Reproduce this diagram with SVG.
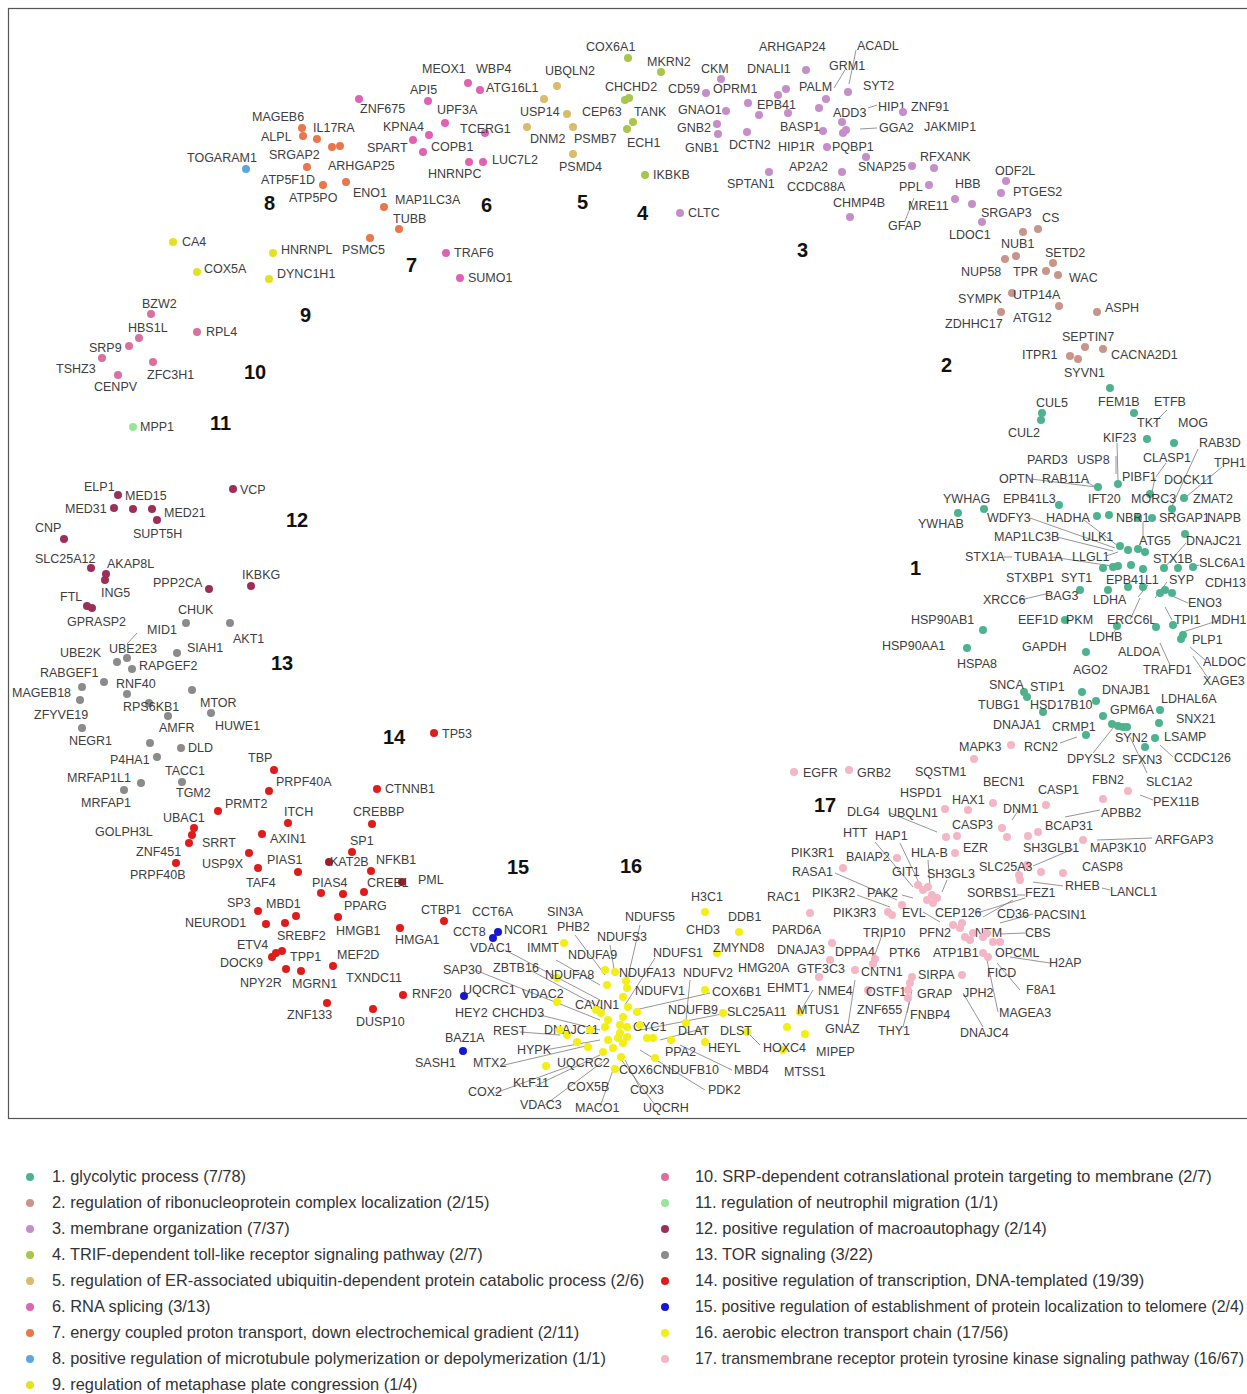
<svg xmlns="http://www.w3.org/2000/svg" width="1247" height="1394" viewBox="0 0 1247 1394">
<style>
text{font-family:"Liberation Sans",Arial,sans-serif;font-size:12.5px;fill:#3d3d3d}
.num{font-size:20px;font-weight:bold;fill:#111}
.lg text{font-size:16.4px;fill:#333}
#connectors path{stroke:#7a7a7a;stroke-width:0.8;fill:none}
.c1 circle{fill:#4db38e}.c2 circle{fill:#c9958b}.c3 circle{fill:#c58ec9}.c4 circle{fill:#a7c64b}
.c5 circle{fill:#d9bb6b}.c6 circle{fill:#e062b3}.c7 circle{fill:#e8774b}.c8 circle{fill:#59a7dd}
.c9 circle{fill:#e5e022}.c10 circle{fill:#d9709f}.c11 circle{fill:#9ae39b}.c12 circle{fill:#9c2f58}
.c13 circle{fill:#8b8b8b}.c14 circle{fill:#df1b1b}.c15 circle{fill:#1717cf}.c16 circle{fill:#f3ee15}.c17 circle{fill:#f4b6c5}
</style>
<rect x="8.5" y="8.5" width="1250" height="1110" fill="#fff" stroke="#555" stroke-width="1.2"/>
<g id="connectors">
<path d="M856 50L849 84M834 88L845 70M868 108L877 105M860 129L877 128M905 221L914 198"/>
<path d="M137 633L127 644"/>
<path d="M1167 410L1153 424M1198 449L1172 506M1222 467L1186 497M1166 463L1156 477M1155 478L1152 492M1116 456L1116 474M1117 443L1118 480M1031 479L1096 487M1086 482L1096 487M1030 518L1115 548M1084 520L1118 546M1057 537L1113 551M1004 557L1012 557M1052 557L1112 566M1106 556L1118 552M1143 522L1143 540M1186 543L1165 567M1167 582L1155 598M1199 565L1193 567M1188 603L1170 595M1220 620L1180 633M1172 620L1165 607M1140 598L1130 620M1190 647L1205 660M1160 643L1170 665M1193 656L1208 678M1020 600L1050 593M1110 638L1120 623M1138 597L1148 585M1060 743L1077 737M1093 753L1113 728M1130 737L1147 773M1173 757L1160 745M1140 795L1153 800"/>
<path d="M1065 817L1100 810M1012 820L1020 808M890 813L937 832M875 842L913 887M900 843L920 885M835 873L897 900M857 895L890 907M902 895L913 898M928 860L930 888M947 880L942 892M1073 849L1033 866M1097 840L1152 838M1033 882L1063 886M1102 888L1110 890M1017 895L1025 895M1025 898L977 913M983 917L1013 900M1000 923L1033 914M1000 934L1025 933M1010 957L1050 963M997 963L1020 990M987 960L998 1012M963 993L983 1027M912 990L907 1013M813 990L800 1012M848 1025L855 980M882 935L872 963M923 912L940 922M903 1027L910 1000"/>
<path d="M505 950L600 1000M475 970L600 1020M530 970L605 1010M540 1015L600 1030M520 1032L560 1035M545 1050L600 1040M500 1066L590 1045M535 1086L600 1055M495 1093L570 1066M545 1105L605 1060M600 1107L613 1070M655 1105L620 1058M640 1088L625 1060M705 1090L640 1050M732 1070L680 1045M640 925L625 990M610 945L615 975M575 935L605 975M655 958L625 1005M690 980L686 1020M710 993L635 1010M727 1013L640 1030M556 960L600 985M705 1028L660 1040M760 1045L750 1035"/>
</g>
<g id="nodes">
<g id="cluster-8" class="c8"><g id="TOGARAM1"><circle cx="246" cy="169" r="4"/><text x="187" y="162">TOGARAM1</text></g></g>
<g id="cluster-7" class="c7">
<g id="MAGEB6"><circle cx="302" cy="128" r="4"/><text x="252" y="121">MAGEB6</text></g>
<g id="ALPL"><circle cx="303" cy="136" r="4"/><text x="261" y="141">ALPL</text></g>
<g id="IL17RA"><circle cx="317" cy="139" r="4"/><text x="313" y="132">IL17RA</text></g>
<g id="SRGAP2"><circle cx="307" cy="167" r="4"/><text x="269" y="159">SRGAP2</text></g>
<g id="ARHGAP25"><circle cx="346" cy="182" r="4"/><text x="328" y="170">ARHGAP25</text></g>
<g id="ATP5F1D"><circle cx="323" cy="185" r="4"/><text x="261" y="184">ATP5F1D</text></g>
<g id="ATP5PO"><circle cx="332" cy="147" r="4"/><text x="289" y="202">ATP5PO</text></g>
<g id="ENO1"><circle cx="340" cy="146" r="4"/><text x="353" y="197">ENO1</text></g>
<g id="MAP1LC3A"><circle cx="384" cy="207" r="4"/><text x="395" y="204">MAP1LC3A</text></g>
<g id="TUBB"><circle cx="399" cy="229" r="4"/><text x="393" y="223">TUBB</text></g>
<g id="PSMC5"><circle cx="370" cy="238" r="4"/><text x="342" y="254">PSMC5</text></g>
</g>
<g id="cluster-6" class="c6">
<g id="MEOX1"><text x="422" y="73">MEOX1</text></g>
<g id="WBP4"><circle cx="468" cy="83" r="4"/><text x="476" y="73">WBP4</text></g>
<g id="ATG16L1"><circle cx="480" cy="90" r="4"/><text x="486" y="92">ATG16L1</text></g>
<g id="API5"><circle cx="428" cy="101" r="4"/><text x="410" y="94">API5</text></g>
<g id="ZNF675"><circle cx="359" cy="99" r="4"/><text x="360" y="113">ZNF675</text></g>
<g id="UPF3A"><circle cx="445" cy="123" r="4"/><text x="437" y="114">UPF3A</text></g>
<g id="KPNA4"><circle cx="429" cy="135" r="4"/><text x="383" y="131">KPNA4</text></g>
<g id="SPART"><circle cx="413" cy="140" r="4"/><text x="367" y="152">SPART</text></g>
<g id="COPB1"><circle cx="423" cy="152" r="4"/><text x="431" y="151">COPB1</text></g>
<g id="TCERG1"><circle cx="485" cy="133" r="4"/><text x="460" y="133">TCERG1</text></g>
<g id="LUC7L2"><circle cx="483" cy="162" r="4"/><text x="492" y="164">LUC7L2</text></g>
<g id="HNRNPC"><circle cx="469" cy="162" r="4"/><text x="428" y="178">HNRNPC</text></g>
<g id="TRAF6"><circle cx="446" cy="253" r="4"/><text x="454" y="257">TRAF6</text></g>
<g id="SUMO1"><circle cx="460" cy="278" r="4"/><text x="468" y="282">SUMO1</text></g>
</g>
<g id="cluster-5" class="c5">
<g id="UBQLN2"><circle cx="557" cy="86" r="4"/><text x="545" y="75">UBQLN2</text></g>
<g id="USP14"><circle cx="567" cy="114" r="4"/><text x="520" y="116">USP14</text></g>
<g id="CEP63"><circle cx="544" cy="99" r="4"/><text x="582" y="116">CEP63</text></g>
<g id="DNM2"><circle cx="527" cy="127" r="4"/><text x="530" y="143">DNM2</text></g>
<g id="PSMB7"><circle cx="573" cy="127" r="4"/><text x="574" y="143">PSMB7</text></g>
<g id="PSMD4"><circle cx="573" cy="154" r="4"/><text x="559" y="171">PSMD4</text></g>
</g>
<g id="cluster-4" class="c4">
<g id="COX6A1"><circle cx="628" cy="58" r="4"/><text x="586" y="51">COX6A1</text></g>
<g id="MKRN2"><circle cx="661" cy="72" r="4"/><text x="647" y="66">MKRN2</text></g>
<g id="CHCHD2"><circle cx="625" cy="100" r="4"/><circle cx="629" cy="98" r="4"/><text x="605" y="91">CHCHD2</text></g>
<g id="TANK"><circle cx="633" cy="122" r="4"/><text x="634" y="116">TANK</text></g>
<g id="ECH1"><circle cx="627" cy="129" r="4"/><text x="627" y="147">ECH1</text></g>
<g id="IKBKB"><circle cx="645" cy="175" r="4"/><text x="653" y="179">IKBKB</text></g>
</g>
<g id="cluster-3" class="c3">
<g id="CKM"><circle cx="721" cy="79" r="4"/><text x="701" y="73">CKM</text></g>
<g id="DNALI1"><circle cx="806" cy="70" r="4"/><text x="747" y="73">DNALI1</text></g>
<g id="ARHGAP24"><text x="759" y="51">ARHGAP24</text></g>
<g id="ACADL"><text x="857" y="50">ACADL</text></g>
<g id="GRM1"><text x="829" y="70">GRM1</text></g>
<g id="CD59"><circle cx="706" cy="93" r="4"/><text x="668" y="93">CD59</text></g>
<g id="OPRM1"><circle cx="778" cy="95" r="4"/><circle cx="786" cy="89" r="4"/><text x="713" y="93">OPRM1</text></g>
<g id="PALM"><circle cx="826" cy="99" r="4"/><text x="799" y="91">PALM</text></g>
<g id="SYT2"><circle cx="848" cy="92" r="4"/><text x="863" y="90">SYT2</text></g>
<g id="GNAO1"><circle cx="726" cy="111" r="4"/><text x="678" y="114">GNAO1</text></g>
<g id="EPB41"><circle cx="748" cy="103" r="4"/><circle cx="759" cy="115" r="4"/><circle cx="788" cy="113" r="4"/><text x="757" y="109">EPB41</text></g>
<g id="ADD3"><circle cx="819" cy="108" r="4"/><text x="833" y="117">ADD3</text></g>
<g id="GNB2"><circle cx="717" cy="124" r="4"/><text x="677" y="132">GNB2</text></g>
<g id="GNB1"><circle cx="718" cy="134" r="4"/><text x="685" y="152">GNB1</text></g>
<g id="DCTN2"><circle cx="747" cy="132" r="4"/><text x="729" y="149">DCTN2</text></g>
<g id="BASP1"><circle cx="823" cy="131" r="4"/><text x="780" y="131">BASP1</text></g>
<g id="HIP1"><circle cx="842" cy="122" r="4"/><text x="878" y="111">HIP1</text></g>
<g id="GGA2"><circle cx="846" cy="130" r="4"/><circle cx="843" cy="133" r="4"/><text x="879" y="132">GGA2</text></g>
<g id="ZNF91"><circle cx="903" cy="112" r="4"/><text x="911" y="111">ZNF91</text></g>
<g id="JAKMIP1"><text x="924" y="131">JAKMIP1</text></g>
<g id="HIP1R"><text x="778" y="151">HIP1R</text></g>
<g id="PQBP1"><circle cx="827" cy="147" r="4"/><text x="832" y="151">PQBP1</text></g>
<g id="SNAP25"><circle cx="866" cy="157" r="4"/><circle cx="912" cy="166" r="4"/><text x="858" y="171">SNAP25</text></g>
<g id="RFXANK"><circle cx="934" cy="168" r="4"/><text x="920" y="161">RFXANK</text></g>
<g id="AP2A2"><circle cx="842" cy="172" r="4"/><text x="789" y="171">AP2A2</text></g>
<g id="SPTAN1"><circle cx="769" cy="172" r="4"/><text x="727" y="188">SPTAN1</text></g>
<g id="CCDC88A"><text x="787" y="191">CCDC88A</text></g>
<g id="CLTC"><circle cx="680" cy="213" r="4"/><text x="688" y="217">CLTC</text></g>
<g id="CHMP4B"><circle cx="850" cy="217" r="4"/><text x="833" y="207">CHMP4B</text></g>
<g id="PPL"><circle cx="929" cy="185" r="4"/><text x="899" y="191">PPL</text></g>
<g id="HBB"><circle cx="955" cy="199" r="4"/><text x="955" y="188">HBB</text></g>
<g id="MRE11"><circle cx="972" cy="204" r="4"/><text x="908" y="210">MRE11</text></g>
<g id="GFAP"><text x="888" y="230">GFAP</text></g>
<g id="ODF2L"><circle cx="1006" cy="181" r="4"/><text x="995" y="175">ODF2L</text></g>
<g id="PTGES2"><circle cx="1001" cy="193" r="4"/><text x="1013" y="196">PTGES2</text></g>
<g id="SRGAP3"><circle cx="982" cy="222" r="4"/><text x="981" y="217">SRGAP3</text></g>
<g id="LDOC1"><text x="949" y="239">LDOC1</text></g>
</g>
<g id="cluster-2" class="c2">
<g id="CS"><circle cx="1023" cy="232" r="4"/><circle cx="1038" cy="229" r="4"/><text x="1042" y="222">CS</text></g>
<g id="NUB1"><circle cx="1005" cy="259" r="4"/><circle cx="1016" cy="256" r="4"/><text x="1001" y="248">NUB1</text></g>
<g id="SETD2"><circle cx="1053" cy="263" r="4"/><text x="1045" y="257">SETD2</text></g>
<g id="TPR"><circle cx="1046" cy="271" r="4"/><text x="1013" y="276">TPR</text></g>
<g id="WAC"><circle cx="1058" cy="275" r="4"/><text x="1069" y="282">WAC</text></g>
<g id="NUP58"><text x="961" y="276">NUP58</text></g>
<g id="UTP14A"><circle cx="1012" cy="293" r="4"/><text x="1013" y="299">UTP14A</text></g>
<g id="SYMPK"><text x="958" y="303">SYMPK</text></g>
<g id="ATG12"><circle cx="1059" cy="306" r="4"/><text x="1013" y="322">ATG12</text></g>
<g id="ASPH"><circle cx="1097" cy="312" r="4"/><text x="1105" y="312">ASPH</text></g>
<g id="ZDHHC17"><circle cx="1001" cy="312" r="4"/><text x="945" y="328">ZDHHC17</text></g>
<g id="SEPTIN7"><circle cx="1085" cy="347" r="4"/><text x="1062" y="341">SEPTIN7</text></g>
<g id="CACNA2D1"><circle cx="1103" cy="349" r="4"/><text x="1111" y="359">CACNA2D1</text></g>
<g id="ITPR1"><circle cx="1070" cy="356" r="4"/><text x="1022" y="359">ITPR1</text></g>
<g id="SYVN1"><circle cx="1078" cy="359" r="4"/><text x="1064" y="377">SYVN1</text></g>
</g>
<g id="cluster-1" class="c1">
<g id="d1-1"><circle cx="1110" cy="388" r="4"/></g>
<g id="CUL5"><circle cx="1042" cy="413" r="4"/><text x="1036" y="407">CUL5</text></g>
<g id="CUL2"><circle cx="1041" cy="420" r="4"/><text x="1008" y="437">CUL2</text></g>
<g id="FEM1B"><circle cx="1134" cy="413" r="4"/><text x="1098" y="406">FEM1B</text></g>
<g id="ETFB"><text x="1154" y="406">ETFB</text></g>
<g id="TKT"><text x="1137" y="427">TKT</text></g>
<g id="MOG"><circle cx="1174" cy="443" r="4"/><text x="1178" y="427">MOG</text></g>
<g id="KIF23"><circle cx="1147" cy="439" r="4"/><text x="1103" y="442">KIF23</text></g>
<g id="RAB3D"><text x="1199" y="447">RAB3D</text></g>
<g id="PARD3"><text x="1027" y="464">PARD3</text></g>
<g id="USP8"><text x="1077" y="464">USP8</text></g>
<g id="CLASP1"><text x="1143" y="462">CLASP1</text></g>
<g id="TPH1"><text x="1214" y="467">TPH1</text></g>
<g id="OPTN"><text x="999" y="483">OPTN</text></g>
<g id="RAB11A"><circle cx="1098" cy="487" r="4"/><text x="1042" y="483">RAB11A</text></g>
<g id="PIBF1"><circle cx="1118" cy="484" r="4"/><text x="1122" y="481">PIBF1</text></g>
<g id="DOCK11"><circle cx="1150" cy="494" r="4"/><text x="1164" y="484">DOCK11</text></g>
<g id="YWHAG"><circle cx="984" cy="509" r="4"/><text x="943" y="503">YWHAG</text></g>
<g id="EPB41L3"><circle cx="1059" cy="505" r="4"/><text x="1003" y="503">EPB41L3</text></g>
<g id="IFT20"><circle cx="1097" cy="516" r="4"/><text x="1088" y="503">IFT20</text></g>
<g id="MORC3"><circle cx="1172" cy="509" r="4"/><text x="1131" y="503">MORC3</text></g>
<g id="ZMAT2"><circle cx="1184" cy="498" r="4"/><text x="1193" y="503">ZMAT2</text></g>
<g id="YWHAB"><circle cx="958" cy="513" r="4"/><text x="918" y="528">YWHAB</text></g>
<g id="WDFY3"><text x="987" y="522">WDFY3</text></g>
<g id="HADHA"><circle cx="1109" cy="515" r="4"/><text x="1046" y="522">HADHA</text></g>
<g id="NBR1"><circle cx="1138" cy="518" r="4"/><text x="1116" y="522">NBR1</text></g>
<g id="SRGAP1"><circle cx="1152" cy="518" r="4"/><text x="1159" y="522">SRGAP1</text></g>
<g id="NAPB"><text x="1207" y="522">NAPB</text></g>
<g id="MAP1LC3B"><circle cx="1120" cy="546" r="4"/><text x="994" y="541">MAP1LC3B</text></g>
<g id="ULK1"><circle cx="1128" cy="550" r="4"/><text x="1082" y="541">ULK1</text></g>
<g id="ATG5"><circle cx="1138" cy="549" r="4"/><circle cx="1145" cy="552" r="4"/><text x="1139" y="545">ATG5</text></g>
<g id="DNAJC21"><circle cx="1185" cy="534" r="4"/><text x="1186" y="545">DNAJC21</text></g>
<g id="STX1A"><circle cx="1113" cy="567" r="4"/><text x="965" y="561">STX1A</text></g>
<g id="TUBA1A"><circle cx="1103" cy="568" r="4"/><text x="1014" y="561">TUBA1A</text></g>
<g id="LLGL1"><circle cx="1118" cy="566" r="4"/><text x="1072" y="561">LLGL1</text></g>
<g id="STX1B"><circle cx="1164" cy="568" r="4"/><text x="1153" y="563">STX1B</text></g>
<g id="SLC6A1"><circle cx="1193" cy="567" r="4"/><circle cx="1178" cy="568" r="4"/><text x="1199" y="567">SLC6A1</text></g>
<g id="STXBP1"><circle cx="1080" cy="590" r="4"/><text x="1006" y="582">STXBP1</text></g>
<g id="SYT1"><circle cx="1108" cy="590" r="4"/><circle cx="1131" cy="565" r="4"/><text x="1061" y="582">SYT1</text></g>
<g id="EPB41L1"><circle cx="1128" cy="587" r="4"/><circle cx="1143" cy="587" r="4"/><circle cx="1143" cy="569" r="4"/><text x="1106" y="584">EPB41L1</text></g>
<g id="SYP"><circle cx="1165" cy="590" r="4"/><circle cx="1160" cy="593" r="4"/><text x="1169" y="584">SYP</text></g>
<g id="CDH13"><circle cx="1172" cy="593" r="4"/><text x="1205" y="587">CDH13</text></g>
<g id="XRCC6"><text x="983" y="604">XRCC6</text></g>
<g id="BAG3"><text x="1045" y="600">BAG3</text></g>
<g id="LDHA"><text x="1093" y="604">LDHA</text></g>
<g id="ENO3"><text x="1188" y="607">ENO3</text></g>
<g id="HSP90AB1"><circle cx="983" cy="630" r="4"/><text x="911" y="624">HSP90AB1</text></g>
<g id="EEF1D"><text x="1018" y="624">EEF1D</text></g>
<g id="PKM"><circle cx="1065" cy="620" r="4"/><text x="1066" y="624">PKM</text></g>
<g id="ERCC6L"><circle cx="1117" cy="626" r="4"/><text x="1107" y="624">ERCC6L</text></g>
<g id="TPI1"><circle cx="1156" cy="627" r="4"/><circle cx="1173" cy="625" r="4"/><text x="1174" y="624">TPI1</text></g>
<g id="MDH1"><text x="1211" y="624">MDH1</text></g>
<g id="LDHB"><text x="1089" y="641">LDHB</text></g>
<g id="PLP1"><circle cx="1183" cy="635" r="4"/><circle cx="1181" cy="639" r="4"/><text x="1192" y="644">PLP1</text></g>
<g id="HSP90AA1"><text x="882" y="650">HSP90AA1</text></g>
<g id="GAPDH"><circle cx="1086" cy="652" r="4"/><text x="1022" y="651">GAPDH</text></g>
<g id="ALDOA"><text x="1118" y="656">ALDOA</text></g>
<g id="ALDOC"><text x="1203" y="666">ALDOC</text></g>
<g id="HSPA8"><circle cx="967" cy="648" r="4"/><text x="957" y="668">HSPA8</text></g>
<g id="AGO2"><text x="1073" y="674">AGO2</text></g>
<g id="TRAFD1"><text x="1143" y="674">TRAFD1</text></g>
<g id="XAGE3"><text x="1203" y="685">XAGE3</text></g>
<g id="SNCA"><circle cx="1024" cy="692" r="4"/><text x="989" y="689">SNCA</text></g>
<g id="STIP1"><circle cx="1027" cy="697" r="4"/><text x="1030" y="691">STIP1</text></g>
<g id="DNAJB1"><circle cx="1082" cy="692" r="4"/><text x="1102" y="694">DNAJB1</text></g>
<g id="LDHAL6A"><circle cx="1160" cy="710" r="4"/><text x="1161" y="703">LDHAL6A</text></g>
<g id="TUBG1"><text x="978" y="709">TUBG1</text></g>
<g id="HSD17B10"><circle cx="1043" cy="712" r="4"/><circle cx="1096" cy="701" r="4"/><text x="1030" y="709">HSD17B10</text></g>
<g id="GPM6A"><circle cx="1103" cy="716" r="4"/><text x="1110" y="714">GPM6A</text></g>
<g id="SNX21"><circle cx="1159" cy="723" r="4"/><text x="1176" y="723">SNX21</text></g>
<g id="DNAJA1"><text x="993" y="729">DNAJA1</text></g>
<g id="CRMP1"><circle cx="1086" cy="735" r="4"/><text x="1052" y="731">CRMP1</text></g>
<g id="SYN2"><circle cx="1112" cy="724" r="4"/><circle cx="1118" cy="726" r="4"/><text x="1115" y="742">SYN2</text></g>
<g id="DPYSL2"><circle cx="1123" cy="727" r="4"/><text x="1067" y="763">DPYSL2</text></g>
<g id="SFXN3"><circle cx="1127" cy="727" r="4"/><text x="1122" y="764">SFXN3</text></g>
<g id="LSAMP"><circle cx="1155" cy="738" r="4"/><text x="1164" y="741">LSAMP</text></g>
<g id="CCDC126"><circle cx="1145" cy="747" r="4"/><text x="1174" y="762">CCDC126</text></g>
<g id="SLC1A2"><text x="1146" y="786">SLC1A2</text></g>
<g id="RCN2"><text x="1024" y="751">RCN2</text></g>
</g>
<g id="cluster-9" class="c9">
<g id="CA4"><circle cx="173" cy="242" r="4"/><text x="182" y="246">CA4</text></g>
<g id="COX5A"><circle cx="197" cy="272" r="4"/><text x="204" y="273">COX5A</text></g>
<g id="HNRNPL"><circle cx="273" cy="253" r="4"/><text x="281" y="254">HNRNPL</text></g>
<g id="DYNC1H1"><circle cx="269" cy="279" r="4"/><text x="277" y="278">DYNC1H1</text></g>
</g>
<g id="cluster-10" class="c10">
<g id="BZW2"><circle cx="151" cy="314" r="4"/><text x="142" y="308">BZW2</text></g>
<g id="HBS1L"><circle cx="139" cy="338" r="4"/><text x="128" y="332">HBS1L</text></g>
<g id="SRP9"><circle cx="129" cy="346" r="4"/><text x="89" y="352">SRP9</text></g>
<g id="TSHZ3"><circle cx="102" cy="358" r="4"/><text x="56" y="373">TSHZ3</text></g>
<g id="ZFC3H1"><circle cx="153" cy="362" r="4"/><text x="147" y="379">ZFC3H1</text></g>
<g id="CENPV"><circle cx="118" cy="375" r="4"/><text x="94" y="391">CENPV</text></g>
<g id="RPL4"><circle cx="197" cy="332" r="4"/><text x="206" y="336">RPL4</text></g>
</g>
<g id="cluster-11" class="c11"><g id="MPP1"><circle cx="133" cy="427" r="4"/><text x="140" y="431">MPP1</text></g></g>
<g id="cluster-12" class="c12">
<g id="ELP1"><circle cx="118" cy="495" r="4"/><text x="84" y="491">ELP1</text></g>
<g id="MED15"><circle cx="133" cy="509" r="4"/><text x="125" y="500">MED15</text></g>
<g id="MED31"><circle cx="114" cy="508" r="4"/><text x="65" y="513">MED31</text></g>
<g id="MED21"><circle cx="152" cy="509" r="4"/><text x="164" y="517">MED21</text></g>
<g id="SUPT5H"><circle cx="157" cy="520" r="4"/><text x="133" y="538">SUPT5H</text></g>
<g id="VCP"><circle cx="233" cy="489" r="4"/><text x="240" y="494">VCP</text></g>
<g id="CNP"><circle cx="64" cy="539" r="4"/><text x="35" y="532">CNP</text></g>
<g id="SLC25A12"><circle cx="91" cy="568" r="4"/><text x="35" y="563">SLC25A12</text></g>
<g id="AKAP8L"><circle cx="106" cy="574" r="4"/><text x="107" y="568">AKAP8L</text></g>
<g id="ING5"><circle cx="105" cy="580" r="4"/><text x="101" y="597">ING5</text></g>
<g id="PPP2CA"><circle cx="209" cy="589" r="4"/><text x="153" y="587">PPP2CA</text></g>
<g id="IKBKG"><circle cx="251" cy="586" r="4"/><text x="242" y="579">IKBKG</text></g>
<g id="FTL"><circle cx="87" cy="606" r="4"/><text x="60" y="601">FTL</text></g>
<g id="GPRASP2"><circle cx="92" cy="608" r="4"/><text x="67" y="626">GPRASP2</text></g>
</g>
<g id="cluster-13" class="c13">
<g id="CHUK"><circle cx="186" cy="623" r="4"/><text x="178" y="614">CHUK</text></g>
<g id="AKT1"><circle cx="230" cy="623" r="4"/><text x="233" y="643">AKT1</text></g>
<g id="MID1"><text x="147" y="634">MID1</text></g>
<g id="UBE2K"><circle cx="117" cy="662" r="4"/><text x="60" y="657">UBE2K</text></g>
<g id="UBE2E3"><circle cx="127" cy="658" r="4"/><text x="109" y="653">UBE2E3</text></g>
<g id="SIAH1"><circle cx="177" cy="653" r="4"/><text x="187" y="652">SIAH1</text></g>
<g id="RAPGEF2"><circle cx="132" cy="669" r="4"/><text x="139" y="670">RAPGEF2</text></g>
<g id="RABGEF1"><circle cx="82" cy="687" r="4"/><text x="40" y="677">RABGEF1</text></g>
<g id="RNF40"><circle cx="104" cy="682" r="4"/><text x="116" y="688">RNF40</text></g>
<g id="MAGEB18"><circle cx="80" cy="700" r="4"/><text x="12" y="697">MAGEB18</text></g>
<g id="RPS6KB1"><circle cx="127" cy="694" r="4"/><circle cx="149" cy="703" r="4"/><text x="123" y="711">RPS6KB1</text></g>
<g id="MTOR"><circle cx="192" cy="690" r="4"/><text x="200" y="707">MTOR</text></g>
<g id="HUWE1"><circle cx="211" cy="713" r="4"/><text x="215" y="730">HUWE1</text></g>
<g id="AMFR"><circle cx="168" cy="716" r="4"/><text x="159" y="732">AMFR</text></g>
<g id="ZFYVE19"><circle cx="82" cy="728" r="4"/><text x="34" y="719">ZFYVE19</text></g>
<g id="NEGR1"><circle cx="150" cy="743" r="4"/><text x="69" y="745">NEGR1</text></g>
<g id="DLD"><circle cx="181" cy="748" r="4"/><text x="188" y="752">DLD</text></g>
<g id="P4HA1"><circle cx="157" cy="757" r="4"/><text x="110" y="764">P4HA1</text></g>
<g id="TACC1"><circle cx="182" cy="782" r="4"/><text x="165" y="775">TACC1</text></g>
<g id="MRFAP1L1"><circle cx="141" cy="783" r="4"/><text x="67" y="782">MRFAP1L1</text></g>
<g id="MRFAP1"><circle cx="124" cy="790" r="4"/><text x="81" y="807">MRFAP1</text></g>
<g id="TGM2"><text x="176" y="797">TGM2</text></g>
</g>
<g id="cluster-14" class="c14">
<g id="TP53"><circle cx="434" cy="733" r="4"/><text x="442" y="738">TP53</text></g>
<g id="TBP"><circle cx="274" cy="770" r="4"/><text x="248" y="762">TBP</text></g>
<g id="PRPF40A"><circle cx="269" cy="791" r="4"/><text x="276" y="786">PRPF40A</text></g>
<g id="CTNNB1"><circle cx="377" cy="789" r="4"/><text x="385" y="793">CTNNB1</text></g>
<g id="PRMT2"><circle cx="218" cy="811" r="4"/><text x="225" y="808">PRMT2</text></g>
<g id="ITCH"><circle cx="288" cy="823" r="4"/><text x="284" y="816">ITCH</text></g>
<g id="CREBBP"><circle cx="372" cy="824" r="4"/><text x="353" y="816">CREBBP</text></g>
<g id="UBAC1"><circle cx="194" cy="828" r="4"/><text x="163" y="822">UBAC1</text></g>
<g id="SRRT"><circle cx="192" cy="835" r="4"/><circle cx="189" cy="843" r="4"/><text x="202" y="847">SRRT</text></g>
<g id="GOLPH3L"><text x="95" y="836">GOLPH3L</text></g>
<g id="AXIN1"><circle cx="262" cy="834" r="4"/><text x="270" y="843">AXIN1</text></g>
<g id="SP1"><circle cx="352" cy="852" r="4"/><text x="350" y="845">SP1</text></g>
<g id="ZNF451"><circle cx="176" cy="863" r="4"/><text x="136" y="856">ZNF451</text></g>
<g id="PRPF40B"><text x="130" y="879">PRPF40B</text></g>
<g id="USP9X"><circle cx="249" cy="853" r="4"/><text x="202" y="868">USP9X</text></g>
<g id="PIAS1"><circle cx="298" cy="872" r="4"/><text x="267" y="864">PIAS1</text></g>
<g id="TAF4"><circle cx="258" cy="868" r="4"/><text x="246" y="887">TAF4</text></g>
<g id="KAT2B"><circle cx="329" cy="862" r="4" style="fill:#a01c22"/><text x="330" y="866">KAT2B</text></g>
<g id="NFKB1"><circle cx="371" cy="871" r="4"/><text x="376" y="864">NFKB1</text></g>
<g id="PIAS4"><circle cx="321" cy="893" r="4"/><text x="312" y="887">PIAS4</text></g>
<g id="CREB1"><circle cx="364" cy="892" r="4"/><circle cx="402" cy="882" r="4" style="fill:#a01c22"/><text x="367" y="887">CREB1</text></g>
<g id="PML"><text x="418" y="884">PML</text></g>
<g id="PPARG"><circle cx="343" cy="894" r="4"/><circle cx="338" cy="917" r="4"/><text x="344" y="910">PPARG</text></g>
<g id="SP3"><circle cx="258" cy="911" r="4"/><text x="227" y="907">SP3</text></g>
<g id="MBD1"><circle cx="296" cy="916" r="4"/><text x="266" y="908">MBD1</text></g>
<g id="CTBP1"><circle cx="444" cy="921" r="4"/><text x="421" y="914">CTBP1</text></g>
<g id="NEUROD1"><circle cx="266" cy="924" r="4"/><text x="185" y="927">NEUROD1</text></g>
<g id="SREBF2"><circle cx="285" cy="923" r="4"/><text x="277" y="940">SREBF2</text></g>
<g id="HMGB1"><text x="336" y="935">HMGB1</text></g>
<g id="HMGA1"><circle cx="400" cy="928" r="4"/><text x="395" y="944">HMGA1</text></g>
<g id="ETV4"><circle cx="272" cy="957" r="4"/><text x="237" y="949">ETV4</text></g>
<g id="DOCK9"><circle cx="276" cy="953" r="4"/><circle cx="282" cy="951" r="4"/><text x="220" y="967">DOCK9</text></g>
<g id="TPP1"><text x="290" y="961">TPP1</text></g>
<g id="MEF2D"><circle cx="333" cy="966" r="4"/><text x="337" y="959">MEF2D</text></g>
<g id="NPY2R"><circle cx="286" cy="969" r="4"/><text x="240" y="987">NPY2R</text></g>
<g id="MGRN1"><circle cx="301" cy="971" r="4"/><text x="292" y="988">MGRN1</text></g>
<g id="TXNDC11"><text x="346" y="982">TXNDC11</text></g>
<g id="RNF20"><circle cx="403" cy="995" r="4"/><text x="412" y="998">RNF20</text></g>
<g id="ZNF133"><circle cx="327" cy="1003" r="4"/><text x="287" y="1019">ZNF133</text></g>
<g id="DUSP10"><circle cx="373" cy="1009" r="4"/><text x="356" y="1026">DUSP10</text></g>
</g>
<g id="cluster-15" class="c15">
<g id="CCT6A"><text x="472" y="916">CCT6A</text></g>
<g id="CCT8"><circle cx="493" cy="938" r="4"/><text x="453" y="936">CCT8</text></g>
<g id="NCOR1"><circle cx="498" cy="932" r="4"/><text x="504" y="934">NCOR1</text></g>
<g id="UQCRC1"><circle cx="464" cy="996" r="4"/><text x="463" y="994">UQCRC1</text></g>
<g id="BAZ1A"><circle cx="463" cy="1051" r="4"/><text x="445" y="1042">BAZ1A</text></g>
<g id="SASH1"><text x="415" y="1067">SASH1</text></g>
</g>
<g id="cluster-16" class="c16">
<g id="SIN3A"><text x="547" y="916">SIN3A</text></g>
<g id="NDUFS5"><text x="625" y="921">NDUFS5</text></g>
<g id="H3C1"><circle cx="705" cy="912" r="4"/><text x="691" y="901">H3C1</text></g>
<g id="DDB1"><circle cx="739" cy="932" r="4"/><text x="728" y="921">DDB1</text></g>
<g id="CHD3"><text x="686" y="934">CHD3</text></g>
<g id="PHB2"><circle cx="605" cy="970" r="4"/><text x="557" y="931">PHB2</text></g>
<g id="NDUFS3"><circle cx="615" cy="972" r="4"/><text x="597" y="941">NDUFS3</text></g>
<g id="VDAC1"><circle cx="607" cy="985" r="4"/><text x="470" y="952">VDAC1</text></g>
<g id="IMMT"><circle cx="564" cy="943" r="4"/><text x="527" y="952">IMMT</text></g>
<g id="NDUFA9"><circle cx="626" cy="981" r="4"/><text x="568" y="959">NDUFA9</text></g>
<g id="NDUFS1"><circle cx="627" cy="988" r="4"/><text x="653" y="957">NDUFS1</text></g>
<g id="ZMYND8"><circle cx="717" cy="953" r="4"/><text x="713" y="952">ZMYND8</text></g>
<g id="SAP30"><circle cx="623" cy="997" r="4"/><text x="443" y="974">SAP30</text></g>
<g id="ZBTB16"><circle cx="601" cy="1013" r="4"/><text x="493" y="972">ZBTB16</text></g>
<g id="NDUFA8"><circle cx="557" cy="978" r="4"/><text x="545" y="979">NDUFA8</text></g>
<g id="NDUFA13"><circle cx="608" cy="1020" r="4"/><text x="619" y="977">NDUFA13</text></g>
<g id="NDUFV2"><circle cx="623" cy="1017" r="4"/><text x="683" y="977">NDUFV2</text></g>
<g id="HMG20A"><text x="738" y="972">HMG20A</text></g>
<g id="VDAC2"><circle cx="628" cy="1007" r="4"/><text x="522" y="998">VDAC2</text></g>
<g id="NDUFV1"><circle cx="620" cy="1025" r="4"/><text x="635" y="995">NDUFV1</text></g>
<g id="COX6B1"><circle cx="705" cy="990" r="4"/><text x="712" y="996">COX6B1</text></g>
<g id="EHMT1"><text x="767" y="992">EHMT1</text></g>
<g id="CAVIN1"><circle cx="557" cy="1002" r="4"/><text x="575" y="1009">CAVIN1</text></g>
<g id="HEY2"><circle cx="605" cy="1027" r="4"/><text x="455" y="1017">HEY2</text></g>
<g id="CHCHD3"><circle cx="627" cy="1027" r="4"/><text x="492" y="1017">CHCHD3</text></g>
<g id="NDUFB9"><circle cx="596" cy="1010" r="4"/><text x="668" y="1014">NDUFB9</text></g>
<g id="SLC25A11"><circle cx="723" cy="1013" r="4"/><text x="727" y="1016">SLC25A11</text></g>
<g id="MTUS1"><circle cx="800" cy="1012" r="4"/><text x="797" y="1014">MTUS1</text></g>
<g id="REST"><circle cx="567" cy="1035" r="4"/><text x="493" y="1035">REST</text></g>
<g id="DNAJC11"><circle cx="577" cy="1042" r="4"/><text x="544" y="1034">DNAJC11</text></g>
<g id="CYC1"><circle cx="647" cy="1038" r="4"/><circle cx="653" cy="1038" r="4"/><text x="633" y="1031">CYC1</text></g>
<g id="DLAT"><circle cx="686" cy="1023" r="4"/><text x="678" y="1035">DLAT</text></g>
<g id="DLST"><circle cx="747" cy="1032" r="4"/><text x="720" y="1035">DLST</text></g>
<g id="HYPK"><circle cx="588" cy="1047" r="4"/><text x="517" y="1054">HYPK</text></g>
<g id="PPA2"><circle cx="671" cy="1040" r="4"/><text x="665" y="1056">PPA2</text></g>
<g id="HEYL"><circle cx="705" cy="1042" r="4"/><text x="708" y="1052">HEYL</text></g>
<g id="HOXC4"><circle cx="783" cy="1050" r="4"/><text x="763" y="1052">HOXC4</text></g>
<g id="MIPEP"><circle cx="805" cy="1034" r="4"/><circle cx="787" cy="1027" r="4"/><text x="816" y="1056">MIPEP</text></g>
<g id="MTX2"><circle cx="603" cy="1052" r="4"/><text x="473" y="1067">MTX2</text></g>
<g id="UQCRC2"><circle cx="546" cy="1066" r="4"/><text x="557" y="1067">UQCRC2</text></g>
<g id="COX6C"><circle cx="615" cy="1069" r="4"/><text x="619" y="1074">COX6C</text></g>
<g id="NDUFB10"><circle cx="655" cy="1058" r="4"/><text x="662" y="1074">NDUFB10</text></g>
<g id="MBD4"><text x="734" y="1074">MBD4</text></g>
<g id="MTSS1"><text x="784" y="1076">MTSS1</text></g>
<g id="KLF11"><circle cx="608" cy="1040" r="4"/><text x="513" y="1087">KLF11</text></g>
<g id="COX5B"><circle cx="613" cy="1048" r="4"/><text x="567" y="1091">COX5B</text></g>
<g id="COX3"><circle cx="621" cy="1057" r="4"/><text x="630" y="1094">COX3</text></g>
<g id="PDK2"><circle cx="627" cy="1037" r="4"/><text x="708" y="1094">PDK2</text></g>
<g id="COX2"><circle cx="618" cy="1038" r="4"/><text x="468" y="1096">COX2</text></g>
<g id="VDAC3"><circle cx="623" cy="1043" r="4"/><text x="520" y="1109">VDAC3</text></g>
<g id="MACO1"><circle cx="620" cy="1033" r="4"/><text x="575" y="1112">MACO1</text></g>
<g id="UQCRH"><circle cx="640" cy="1025" r="4"/><text x="643" y="1112">UQCRH</text></g>
<g id="d16-1"><circle cx="590" cy="1030" r="4"/><circle cx="560" cy="1030" r="4"/><circle cx="637" cy="1012" r="4"/></g>
</g>
<g id="cluster-17" class="c17">
<g id="EGFR"><circle cx="794" cy="772" r="4"/><text x="803" y="777">EGFR</text></g>
<g id="GRB2"><circle cx="849" cy="770" r="4"/><text x="857" y="777">GRB2</text></g>
<g id="SQSTM1"><circle cx="974" cy="759" r="4"/><text x="915" y="776">SQSTM1</text></g>
<g id="MAPK3"><circle cx="1011" cy="745" r="4"/><text x="959" y="751">MAPK3</text></g>
<g id="BECN1"><circle cx="993" cy="803" r="4"/><text x="983" y="786">BECN1</text></g>
<g id="HSPD1"><text x="900" y="797">HSPD1</text></g>
<g id="CASP1"><circle cx="1046" cy="805" r="4"/><text x="1038" y="794">CASP1</text></g>
<g id="FBN2"><circle cx="1103" cy="799" r="4"/><text x="1092" y="784">FBN2</text></g>
<g id="PEX11B"><circle cx="1128" cy="791" r="4"/><text x="1153" y="806">PEX11B</text></g>
<g id="HAX1"><circle cx="968" cy="810" r="4"/><text x="952" y="804">HAX1</text></g>
<g id="DNM1"><text x="1003" y="813">DNM1</text></g>
<g id="APBB2"><text x="1101" y="817">APBB2</text></g>
<g id="DLG4"><text x="847" y="816">DLG4</text></g>
<g id="UBQLN1"><circle cx="945" cy="809" r="4"/><text x="888" y="817">UBQLN1</text></g>
<g id="CASP3"><circle cx="1002" cy="828" r="4"/><circle cx="1007" cy="837" r="4"/><text x="952" y="829">CASP3</text></g>
<g id="BCAP31"><circle cx="1028" cy="836" r="4"/><circle cx="1038" cy="832" r="4"/><text x="1045" y="830">BCAP31</text></g>
<g id="HTT"><circle cx="946" cy="837" r="4"/><text x="843" y="837">HTT</text></g>
<g id="HAP1"><circle cx="957" cy="836" r="4"/><text x="875" y="840">HAP1</text></g>
<g id="PIK3R1"><text x="791" y="857">PIK3R1</text></g>
<g id="BAIAP2"><circle cx="897" cy="858" r="4"/><text x="846" y="861">BAIAP2</text></g>
<g id="HLA-B"><text x="911" y="857">HLA-B</text></g>
<g id="EZR"><circle cx="955" cy="853" r="4"/><text x="963" y="852">EZR</text></g>
<g id="SH3GLB1"><circle cx="1083" cy="840" r="4"/><text x="1023" y="852">SH3GLB1</text></g>
<g id="MAP3K10"><text x="1090" y="852">MAP3K10</text></g>
<g id="ARFGAP3"><text x="1155" y="844">ARFGAP3</text></g>
<g id="RASA1"><circle cx="843" cy="868" r="4"/><text x="792" y="876">RASA1</text></g>
<g id="GIT1"><circle cx="918" cy="885" r="4"/><text x="892" y="876">GIT1</text></g>
<g id="SH3GL3"><circle cx="923" cy="890" r="4"/><text x="927" y="878">SH3GL3</text></g>
<g id="SLC25A3"><circle cx="1027" cy="865" r="4"/><text x="979" y="871">SLC25A3</text></g>
<g id="CASP8"><circle cx="1041" cy="872" r="4"/><circle cx="1063" cy="873" r="4"/><text x="1082" y="871">CASP8</text></g>
<g id="RHEB"><circle cx="1019" cy="875" r="4"/><circle cx="1020" cy="880" r="4"/><text x="1065" y="890">RHEB</text></g>
<g id="LANCL1"><text x="1110" y="896">LANCL1</text></g>
<g id="PIK3R2"><circle cx="928" cy="887" r="4"/><text x="812" y="897">PIK3R2</text></g>
<g id="PAK2"><circle cx="932" cy="895" r="4"/><text x="867" y="897">PAK2</text></g>
<g id="SORBS1"><circle cx="927" cy="900" r="4"/><text x="967" y="897">SORBS1</text></g>
<g id="FEZ1"><circle cx="933" cy="903" r="4"/><text x="1025" y="897">FEZ1</text></g>
<g id="RAC1"><circle cx="810" cy="913" r="4"/><text x="767" y="901">RAC1</text></g>
<g id="PIK3R3"><circle cx="888" cy="912" r="4"/><text x="833" y="917">PIK3R3</text></g>
<g id="EVL"><circle cx="892" cy="915" r="4"/><circle cx="902" cy="905" r="4"/><text x="902" y="917">EVL</text></g>
<g id="CEP126"><circle cx="937" cy="898" r="4"/><text x="935" y="917">CEP126</text></g>
<g id="CD36"><circle cx="953" cy="925" r="4"/><text x="997" y="918">CD36</text></g>
<g id="PACSIN1"><circle cx="962" cy="923" r="4"/><text x="1034" y="919">PACSIN1</text></g>
<g id="PARD6A"><text x="772" y="934">PARD6A</text></g>
<g id="TRIP10"><circle cx="960" cy="928" r="4"/><text x="863" y="937">TRIP10</text></g>
<g id="PFN2"><circle cx="965" cy="937" r="4"/><text x="919" y="937">PFN2</text></g>
<g id="NTM"><circle cx="970" cy="940" r="4"/><circle cx="973" cy="933" r="4"/><text x="975" y="937">NTM</text></g>
<g id="CBS"><circle cx="983" cy="937" r="4"/><text x="1025" y="937">CBS</text></g>
<g id="DNAJA3"><circle cx="832" cy="943" r="4"/><text x="777" y="954">DNAJA3</text></g>
<g id="DPPA4"><circle cx="830" cy="960" r="4"/><text x="835" y="956">DPPA4</text></g>
<g id="PTK6"><circle cx="875" cy="959" r="4"/><circle cx="873" cy="964" r="4"/><text x="889" y="957">PTK6</text></g>
<g id="ATP1B1"><circle cx="987" cy="933" r="4"/><text x="933" y="957">ATP1B1</text></g>
<g id="OPCML"><circle cx="993" cy="942" r="4"/><circle cx="1000" cy="942" r="4"/><text x="995" y="957">OPCML</text></g>
<g id="H2AP"><text x="1049" y="967">H2AP</text></g>
<g id="GTF3C3"><circle cx="819" cy="977" r="4"/><text x="797" y="973">GTF3C3</text></g>
<g id="CNTN1"><circle cx="855" cy="970" r="4"/><text x="861" y="976">CNTN1</text></g>
<g id="SIRPA"><circle cx="962" cy="975" r="4"/><text x="918" y="979">SIRPA</text></g>
<g id="FICD"><circle cx="983" cy="953" r="4"/><circle cx="988" cy="957" r="4"/><text x="987" y="977">FICD</text></g>
<g id="NME4"><text x="818" y="995">NME4</text></g>
<g id="OSTF1"><circle cx="868" cy="990" r="4"/><text x="866" y="996">OSTF1</text></g>
<g id="GRAP"><circle cx="912" cy="977" r="4"/><circle cx="910" cy="983" r="4"/><text x="917" y="998">GRAP</text></g>
<g id="JPH2"><text x="963" y="997">JPH2</text></g>
<g id="F8A1"><text x="1026" y="994">F8A1</text></g>
<g id="ZNF655"><circle cx="908" cy="990" r="4"/><text x="857" y="1014">ZNF655</text></g>
<g id="FNBP4"><circle cx="908" cy="998" r="4"/><text x="910" y="1019">FNBP4</text></g>
<g id="MAGEA3"><text x="999" y="1017">MAGEA3</text></g>
<g id="GNAZ"><text x="825" y="1033">GNAZ</text></g>
<g id="THY1"><text x="878" y="1035">THY1</text></g>
<g id="DNAJC4"><text x="960" y="1037">DNAJC4</text></g>
</g>
</g>
<g id="cluster-numbers" class="num">
<text class="num" x="910" y="575">1</text>
<text class="num" x="941" y="372">2</text>
<text class="num" x="797" y="257">3</text>
<text class="num" x="637" y="220">4</text>
<text class="num" x="577" y="209">5</text>
<text class="num" x="481" y="212">6</text>
<text class="num" x="406" y="272">7</text>
<text class="num" x="264" y="210">8</text>
<text class="num" x="300" y="322">9</text>
<text class="num" x="244" y="379">10</text>
<text class="num" x="210" y="430">11</text>
<text class="num" x="286" y="527">12</text>
<text class="num" x="271" y="670">13</text>
<text class="num" x="383" y="744">14</text>
<text class="num" x="507" y="874">15</text>
<text class="num" x="620" y="873">16</text>
<text class="num" x="814" y="812">17</text>
</g>
<g id="legend" class="lg">
<g class="c1"><circle cx="30" cy="1177" r="4"/><text x="52" y="1182">1. glycolytic process (7/78)</text></g>
<g class="c2"><circle cx="30" cy="1203" r="4"/><text x="52" y="1208">2. regulation of ribonucleoprotein complex localization (2/15)</text></g>
<g class="c3"><circle cx="30" cy="1229" r="4"/><text x="52" y="1234">3. membrane organization (7/37)</text></g>
<g class="c4"><circle cx="30" cy="1255" r="4"/><text x="52" y="1260">4. TRIF-dependent toll-like receptor signaling pathway (2/7)</text></g>
<g class="c5"><circle cx="30" cy="1281" r="4"/><text x="52" y="1286">5. regulation of ER-associated ubiquitin-dependent protein catabolic process (2/6)</text></g>
<g class="c6"><circle cx="30" cy="1307" r="4"/><text x="52" y="1312">6. RNA splicing (3/13)</text></g>
<g class="c7"><circle cx="30" cy="1333" r="4"/><text x="52" y="1338">7. energy coupled proton transport, down electrochemical gradient (2/11)</text></g>
<g class="c8"><circle cx="30" cy="1359" r="4"/><text x="52" y="1364">8. positive regulation of microtubule polymerization or depolymerization (1/1)</text></g>
<g class="c9"><circle cx="30" cy="1385" r="4"/><text x="52" y="1390">9. regulation of metaphase plate congression (1/4)</text></g>
<g class="c10"><circle cx="665" cy="1177" r="4"/><text x="695" y="1182">10. SRP-dependent cotranslational protein targeting to membrane (2/7)</text></g>
<g class="c11"><circle cx="665" cy="1203" r="4"/><text x="695" y="1208">11. regulation of neutrophil migration (1/1)</text></g>
<g class="c12"><circle cx="665" cy="1229" r="4"/><text x="695" y="1234">12. positive regulation of macroautophagy (2/14)</text></g>
<g class="c13"><circle cx="665" cy="1255" r="4"/><text x="695" y="1260">13. TOR signaling (3/22)</text></g>
<g class="c14"><circle cx="665" cy="1281" r="4"/><text x="695" y="1286">14. positive regulation of transcription, DNA-templated (19/39)</text></g>
<g class="c15"><circle cx="665" cy="1307" r="4"/><text x="695" y="1312" textLength="549" lengthAdjust="spacingAndGlyphs">15. positive regulation of establishment of protein localization to telomere (2/4)</text></g>
<g class="c16"><circle cx="665" cy="1333" r="4"/><text x="695" y="1338">16. aerobic electron transport chain (17/56)</text></g>
<g class="c17"><circle cx="665" cy="1359" r="4"/><text x="695" y="1364" textLength="549" lengthAdjust="spacingAndGlyphs">17. transmembrane receptor protein tyrosine kinase signaling pathway (16/67)</text></g>
</g>
</svg>
